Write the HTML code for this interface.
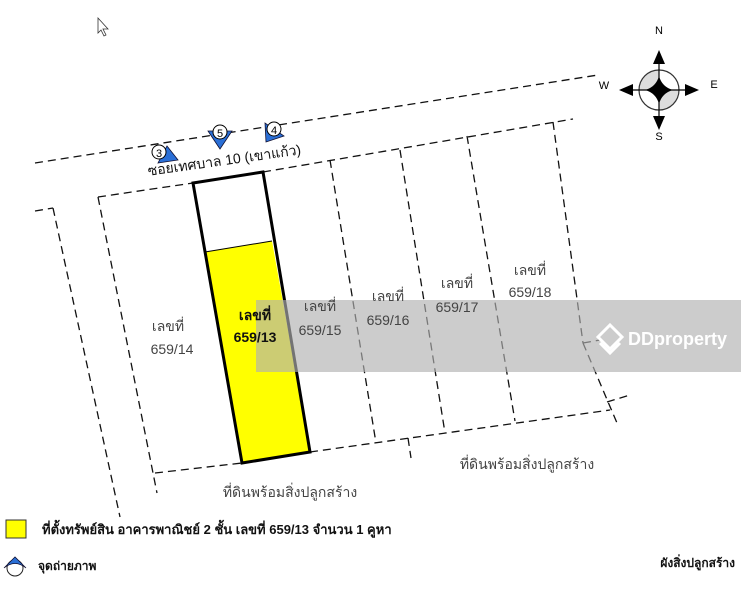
<!DOCTYPE html>
<html><head><meta charset="utf-8"><style>
body{margin:0;width:741px;height:600px;background:#fff;overflow:hidden;position:relative;font-family:"Liberation Sans","DejaVu Sans","Noto Sans CJK SC",sans-serif}
svg{position:absolute;left:0;top:0}
text{font-family:"Liberation Sans","DejaVu Sans","Noto Sans CJK SC",sans-serif}
</style></head><body>
<svg width="741" height="600" viewBox="0 0 741 600">
<g stroke="#111" stroke-width="1.3" fill="none" stroke-dasharray="8,5">
<line x1="35" y1="163" x2="598" y2="75"/>
<line x1="98" y1="197" x2="193" y2="183"/>
<line x1="263" y1="172" x2="573" y2="119"/>
<line x1="35" y1="211" x2="53" y2="208"/>
<line x1="53" y1="208" x2="120" y2="517"/>
<line x1="98" y1="197" x2="157" y2="493"/>
<line x1="155" y1="473" x2="242" y2="463"/>
<line x1="310" y1="452" x2="610" y2="410"/>
<line x1="330" y1="160" x2="376" y2="443"/>
<line x1="400" y1="150" x2="445" y2="433"/>
<line x1="467" y1="136" x2="515" y2="421"/>
<line x1="553" y1="122" x2="583" y2="343"/>
<line x1="583" y1="343" x2="600" y2="340"/>
<line x1="583" y1="343" x2="617" y2="423"/>
<line x1="607" y1="402" x2="630" y2="395"/>
<line x1="408" y1="438" x2="411" y2="458"/>
</g>
<polygon points="205,252 272,241 310,452 242,463" fill="#ffff00"/>
<line x1="205" y1="252" x2="272" y2="241" stroke="#000" stroke-width="1"/>
<polygon points="193,183 263,172 310,452 242,463" fill="none" stroke="#000" stroke-width="3"/>
<rect x="256" y="300" width="485" height="72" fill="#b0b0b0" opacity="0.65"/>
<g fill="none" stroke="#fff" stroke-width="3">
<polygon points="610,325 622,337 610,349 598,337"/>
<polyline points="600,343 610,353 620,343"/>
</g>
<text x="628" y="345" font-size="18" fill="#fff" font-weight="bold">DDproperty</text>
<g font-size="14" fill="#444" text-anchor="middle">
<text x="168" y="331">เลขที่</text><text x="172" y="354">659/14</text>
<text x="320" y="311">เลขที่</text><text x="320" y="335">659/15</text>
<text x="388" y="301">เลขที่</text><text x="388" y="325">659/16</text>
<text x="457" y="288">เลขที่</text><text x="457" y="312">659/17</text>
<text x="530" y="275">เลขที่</text><text x="530" y="297">659/18</text>
<text x="290" y="497">ที่ดินพร้อมสิ่งปลูกสร้าง</text>
<text x="527" y="469">ที่ดินพร้อมสิ่งปลูกสร้าง</text>
</g>
<g font-size="14" fill="#111" text-anchor="middle" font-weight="bold">
<text x="255" y="320">เลขที่</text><text x="255" y="342">659/13</text>
</g>
<text x="225" y="165" font-size="14" fill="#111" text-anchor="middle" transform="rotate(-8 225 165)">ซอยเทศบาล 10 (เขาแก้ว)</text>
<g>
<polygon points="167,146 178,160 158,163" fill="#2a6fd6" stroke="#113" stroke-width="0.8"/>
<circle cx="159" cy="152" r="7" fill="#fff" stroke="#000"/>
<text x="159" y="157" font-size="11" text-anchor="middle">3</text>
<polygon points="208,131 232,131 220,149" fill="#2a6fd6" stroke="#113" stroke-width="0.8"/>
<circle cx="220" cy="132" r="7" fill="#fff" stroke="#000"/>
<text x="220" y="137" font-size="11" text-anchor="middle">5</text>
<polygon points="265,123 266,142 284,136" fill="#2a6fd6" stroke="#113" stroke-width="0.8"/>
<circle cx="274" cy="129" r="7" fill="#fff" stroke="#000"/>
<text x="274" y="134" font-size="11" text-anchor="middle">4</text>
</g>
<g>
<circle cx="659" cy="90" r="20" fill="#ddd"/>
<path d="M659,70 A20,20 0 0 1 679,90 L659,90Z M639,90 A20,20 0 0 0 659,110 L659,90Z" fill="#fff"/>
<circle cx="659" cy="90" r="20" fill="none" stroke="#333" stroke-width="1.2"/>
<line x1="633" y1="90" x2="685" y2="90" stroke="#000" stroke-width="1.2"/>
<line x1="659" y1="64" x2="659" y2="116" stroke="#000" stroke-width="1.2"/>
<path d="M659,76 Q662,87 673,90 Q662,93 659,104 Q656,93 645,90 Q656,87 659,76Z" fill="#000"/>
<polygon points="659,50 653,64 665,64" fill="#000"/>
<polygon points="659,130 653,116 665,116" fill="#000"/>
<polygon points="619,90 633,84 633,96" fill="#000"/>
<polygon points="699,90 685,84 685,96" fill="#000"/>
<g font-size="11" text-anchor="middle" fill="#000">
<text x="659" y="34">N</text><text x="659" y="140">S</text><text x="604" y="89">W</text><text x="714" y="88">E</text>
</g>
</g>
<path d="M98,18 L98,33 L101,30 L104,36 L106,35 L103,29 L108,29Z" fill="#fff" stroke="#333" stroke-width="0.8"/>
<rect x="6" y="520" width="20" height="18" fill="#ffff00" stroke="#333"/>
<text x="42" y="534" font-size="13" font-weight="bold" fill="#111">ที่ตั้งทรัพย์สิน อาคารพาณิชย์ 2 ชั้น เลขที่ 659/13 จำนวน 1 คูหา</text>
<circle cx="15" cy="568" r="8" fill="#fff" stroke="#222"/>
<path d="M4,568 L15,557 L26,568 Q15,559 4,568Z" fill="#2a6fd6" stroke="#113" stroke-width="0.8"/>
<text x="38" y="570" font-size="12" font-weight="bold" fill="#111">จุดถ่ายภาพ</text>
<text x="735" y="567" font-size="12" font-weight="bold" fill="#111" text-anchor="end">ผังสิ่งปลูกสร้าง</text>
</svg>
</body></html>
